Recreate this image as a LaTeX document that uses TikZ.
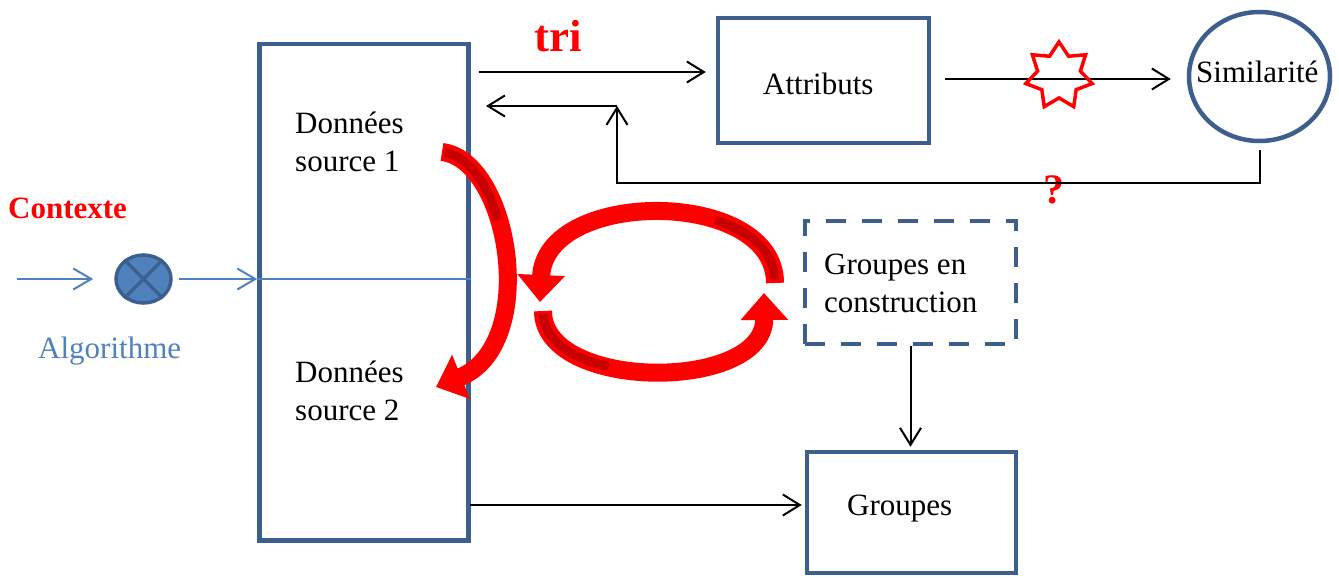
\documentclass[tikz,border=0pt]{standalone}
\usepackage{fontspec}
\setmainfont{Liberation Serif}
\usetikzlibrary{arrows.meta,shapes.geometric}
\definecolor{boxblue}{HTML}{3D5F8E}
\definecolor{lblue}{HTML}{4F81BD}
\definecolor{dred}{HTML}{C80000}
\begin{document}
\begin{tikzpicture}[x=1pt,y=-1pt,
  box/.style={draw=boxblue,line width=4.5pt,rectangle,inner sep=0pt},
  txt/.style={anchor=base west,inner sep=0pt,font=\fontsize{31}{37}\selectfont},
  arr/.style={line width=2pt,-{Straight Barb[length=17pt,width=21pt]}},
  barr/.style={draw=lblue,line width=2pt,-{Straight Barb[length=18pt,width=21pt]}},
  redarr/.style={draw=red,line width=18pt,-{Triangle[width=46pt,length=27pt]}},
  darkband/.style={draw=dred,line width=9pt,dash pattern=on 0pt off 3pt on 90pt off 3000pt}
]
\useasboundingbox (0,0) rectangle (1339,578);

% boxes
\node[box,minimum width=209pt,minimum height=496.5pt] (data) at (364,292.25) {};
\node[box,minimum width=211pt,minimum height=125pt] (attr) at (823.5,80.5) {};
\node[draw=boxblue,line width=4.5pt,ellipse,minimum width=141pt,minimum height=129pt,inner sep=0pt] (sim) at (1259.5,76.5) {};
\node[box,dash pattern=on 20pt off 16pt,minimum width=211pt,minimum height=123pt] (gec) at (910.5,282.5) {};
\node[box,minimum width=209pt,minimum height=121pt] (grp) at (911.5,512.5) {};
\node[draw=boxblue,fill=lblue,ellipse,line width=3.5pt,minimum width=55pt,minimum height=48pt,inner sep=0pt] (cx) at (143.5,279) {};
\draw[boxblue,line width=3.5pt] (cx.45) -- (cx.225) (cx.135) -- (cx.315);

% texts
\node[txt] (d1a) at (295,133) {Données};
\node[txt] (d1b) at (295,171) {source 1};
\node[txt] (d2a) at (295,382) {Données};
\node[txt] (d2b) at (295,420) {source 2};
\node[txt] (tattr) at (763,94) {Attributs};
\node[txt] (tsim) at (1196,83) {Similarité};
\node[txt] (tgec1) at (824,274) {Groupes en};
\node[txt] (tgec2) at (824,312) {construction};
\node[txt] (tgrp) at (847,515) {Groupes};
\node[txt,text=red,font=\bfseries\fontsize{31}{37}\selectfont] (ctx) at (8,218) {Contexte};
\node[txt,text=lblue] (alg) at (38,358) {Algorithme};
\node[txt,text=red,font=\bfseries\fontsize{45}{54}\selectfont] (tri) at (534,52) {tri};
\node[txt,text=red,font=\bfseries\fontsize{42}{50}\selectfont] (q) at (1043,203) {?};

% input connectors
\coordinate (inL) at (17,279);
\draw[barr,shorten >=21pt] (inL) -- (cx.west);
\draw[barr,shorten <=6pt] (cx.east) -- (cx -| data.west);
\draw[lblue,line width=1.5pt] (cx -| data.west) -- (cx -| data.east);

% top connectors
\coordinate (t1) at (479,72);
\draw[arr,shorten >=10pt] (t1) -- (t1 -| attr.west);
\coordinate (s1) at (945,79);
\draw[arr,shorten >=16pt] (s1) -- (s1 -| sim.west);
\node[star,star points=7,star point ratio=1.55,draw=red,line width=3.5pt,minimum size=68pt,inner sep=0pt] (st) at (1059,76) {};

% feedback
\coordinate (fbb) at (617,183);
\coordinate (fbc) at (617,106);
\coordinate (fbl) at (486,106);
\draw[arr] ([yshift=-7pt]sim.south) |- (fbb) -- (fbc);
\draw[arr] (fbc) -- (fbl);

% lower connectors
\draw[arr,shorten >=3pt] (gec.south) -- (gec.south |- grp.north);
\coordinate (g1) at (470,505);
\draw[arr,shorten >=3pt] (g1) -- (g1 -| grp.west);

% red curved arrows
\draw[redarr] (442,152) .. controls (510,160) and (540,345) .. (436,387);
\draw[darkband] (442,152) .. controls (510,160) and (540,345) .. (436,387);
\draw[redarr] (775,283) .. controls (775,188) and (545,188) .. (540,302);
\draw[darkband] (775,283) .. controls (775,188) and (545,188) .. (540,302);
\draw[redarr] (543,311) .. controls (543,392) and (765,392) .. (764,293);
\draw[darkband] (543,311) .. controls (543,392) and (765,392) .. (764,293);
\end{tikzpicture}
\end{document}
